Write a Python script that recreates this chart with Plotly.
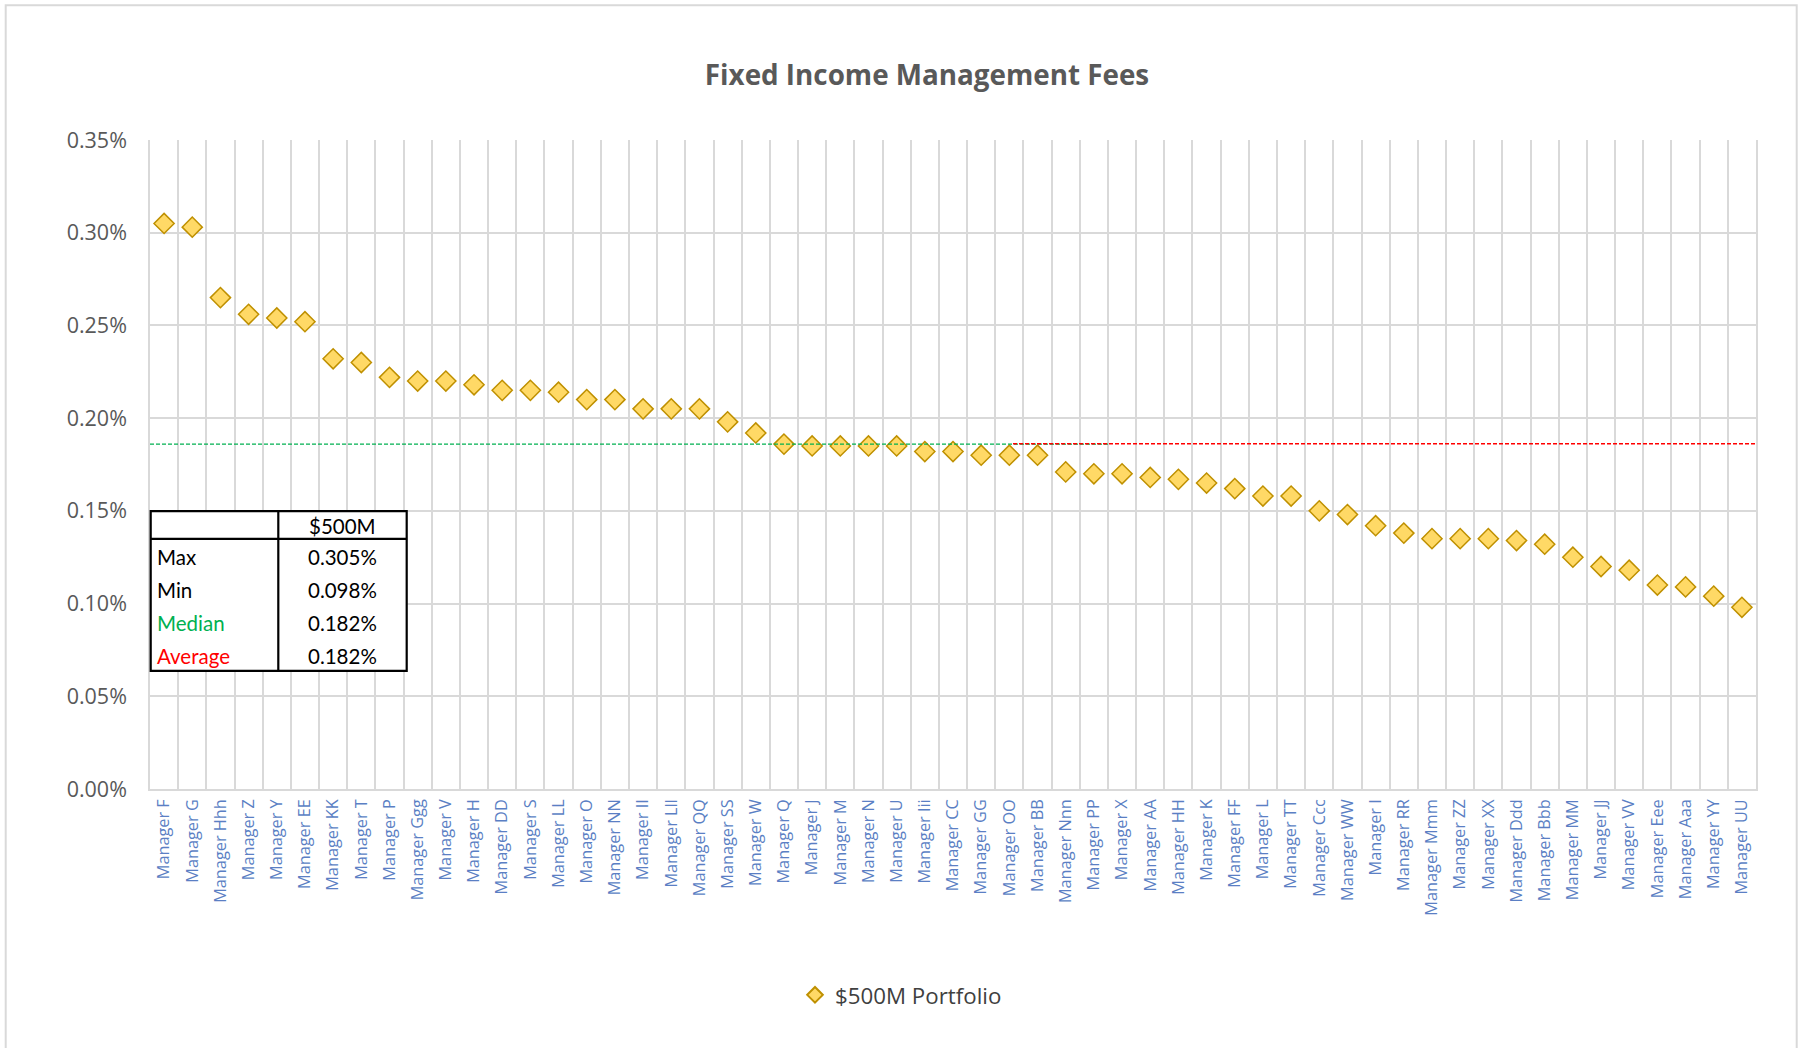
import plotly.graph_objects as go

managers = ["Manager F", "Manager G", "Manager Hhh", "Manager Z", "Manager Y", "Manager EE",
            "Manager KK", "Manager T", "Manager P", "Manager Ggg", "Manager V", "Manager H",
            "Manager DD", "Manager S", "Manager LL", "Manager O", "Manager NN", "Manager II",
            "Manager Lll", "Manager QQ", "Manager SS", "Manager W", "Manager Q", "Manager J",
            "Manager M", "Manager N", "Manager U", "Manager Iii", "Manager CC", "Manager GG",
            "Manager OO", "Manager BB", "Manager Nnn", "Manager PP", "Manager X", "Manager AA",
            "Manager HH", "Manager K", "Manager FF", "Manager L", "Manager TT", "Manager Ccc",
            "Manager WW", "Manager I", "Manager RR", "Manager Mmm", "Manager ZZ", "Manager XX",
            "Manager Ddd", "Manager Bbb", "Manager MM", "Manager JJ", "Manager VV", "Manager Eee",
            "Manager Aaa", "Manager YY", "Manager UU"]

fees_500m = [0.305, 0.303, 0.265, 0.256, 0.254, 0.252,
             0.232, 0.230, 0.222, 0.220, 0.220, 0.218,
             0.215, 0.215, 0.214, 0.210, 0.210, 0.205,
             0.205, 0.205, 0.198, 0.192, 0.186, 0.185,
             0.185, 0.185, 0.185, 0.182, 0.182, 0.180,
             0.180, 0.180, 0.171, 0.170, 0.170, 0.168,
             0.167, 0.165, 0.162, 0.158, 0.158, 0.150,
             0.148, 0.142, 0.138, 0.135, 0.135, 0.135,
             0.134, 0.132, 0.125, 0.120, 0.118, 0.110,
             0.109, 0.104, 0.098]

y_ticks = [0.00, 0.05, 0.10, 0.15, 0.20, 0.25, 0.30, 0.35]
y_tick_labels = ["0.00%", "0.05%", "0.10%", "0.15%", "0.20%", "0.25%", "0.30%", "0.35%"]

median_line_value = 0.186
average_line_value = 0.1862

table_header = "$500M"
table_labels = ["Max", "Min", "Median", "Average"]
table_values = ["0.305%", "0.098%", "0.182%", "0.182%"]
table_label_colors = ["#000000", "#000000", "#00B050", "#FF0000"]

FONT = "Open Sans"
TFONT = "Lato"
W, H = 1798, 1048
L, R, T, B = 150, 1756, 139.5, 789

def px(x):
    return (x - L) / (R - L)

def py(y):
    return (B - y) / (B - T)

fig = go.Figure()
fig.add_trace(go.Scatter(
    x=managers, y=fees_500m, mode="markers", name="$500M Portfolio",
    marker=dict(symbol="diamond", size=15.5, color="#FFD966",
                line=dict(color="#BF9000", width=1.5)),
))

shapes = []
shapes.append(dict(type="line", xref="x domain", yref="y", x0=0, x1=px(1108),
                   y0=median_line_value, y1=median_line_value,
                   line=dict(color="#00B050", width=1.3, dash="4px,2px"), layer="above"))
shapes.append(dict(type="line", xref="x domain", yref="y", x0=px(1013), x1=1,
                   y0=average_line_value, y1=average_line_value,
                   line=dict(color="#FF0000", width=1.3, dash="4px,2px"), layer="above"))

tx0, tx1, tdiv = px(150.7), px(406.7), px(278.3)
ty0, ty_hdr, ty1 = py(511), py(538.7), py(670.7)
shapes.append(dict(type="rect", xref="paper", yref="paper", x0=tx0, x1=tx1, y0=ty1, y1=ty0,
                   fillcolor="white", line=dict(color="black", width=2.2), layer="above"))
shapes.append(dict(type="line", xref="paper", yref="paper", x0=tdiv, x1=tdiv, y0=ty1, y1=ty0,
                   line=dict(color="black", width=2.2), layer="above"))
shapes.append(dict(type="line", xref="paper", yref="paper", x0=tx0, x1=tx1, y0=ty_hdr, y1=ty_hdr,
                   line=dict(color="black", width=2.2), layer="above"))

shapes.append(dict(type="rect", xref="paper", yref="paper", x0=px(5.7), x1=px(1796.7),
                   y0=py(1060), y1=py(4.7), line=dict(color="#D9D9D9", width=2),
                   fillcolor="rgba(0,0,0,0)", layer="below"))

annotations = []
annotations.append(dict(xref="paper", yref="paper", x=(tdiv + tx1) / 2, y=py(526),
                        text=table_header, showarrow=False, xanchor="center", yanchor="middle",
                        font=dict(family=TFONT, size=20.5, color="black")))
row_y = [557.3, 590, 623.3, 656]
for lab, val, col, yy in zip(table_labels, table_values, table_label_colors, row_y):
    annotations.append(dict(xref="paper", yref="paper", x=px(155), y=py(yy), text=lab,
                            showarrow=False, xanchor="left", yanchor="middle",
                            font=dict(family=TFONT, size=20.5, color=col)))
    annotations.append(dict(xref="paper", yref="paper", x=(tdiv + tx1) / 2, y=py(yy), text=val,
                            showarrow=False, xanchor="center", yanchor="middle",
                            font=dict(family=TFONT, size=20.5, color="black")))

fig.update_layout(
    width=W, height=H,
    margin=dict(l=L, r=W - R, t=T, b=H - B, pad=0),
    paper_bgcolor="white", plot_bgcolor="white",
    title=dict(text="<b>Fixed Income Management Fees</b>", xref="container", yref="container",
               x=927 / W, y=1 - 75.7 / H, xanchor="center", yanchor="middle",
               font=dict(family=FONT, size=27.8, color="#595959")),
    xaxis=dict(type="category", tickson="boundaries", showgrid=True, gridcolor="#D9D9D9",
               gridwidth=1.5, ticks="", tickangle=-90, showline=True, linecolor="#D9D9D9",
               linewidth=1.5, range=[-0.5, len(managers) - 0.5], ticklabelstandoff=2,
               tickfont=dict(family=FONT, size=16.3, color="#5B7FC4")),
    yaxis=dict(range=[0, 0.35], tickvals=y_ticks, ticktext=y_tick_labels, showgrid=True,
               gridcolor="#D9D9D9", gridwidth=1.5, zeroline=False, ticks="",
               showline=True, mirror=True, linecolor="#D9D9D9", linewidth=1.5,
               ticklabelstandoff=17,
               tickfont=dict(family=FONT, size=21.5, color="#595959")),
    showlegend=True,
    legend=dict(orientation="h", x=px(901), y=py(995), xanchor="center", yanchor="middle",
                itemsizing="constant", font=dict(family=FONT, size=22.3, color="#404040")),
    shapes=shapes, annotations=annotations,
)

fig.write_html("out.html", config={"displayModeBar": False},
               post_script="document.body.style.margin='0px';")
